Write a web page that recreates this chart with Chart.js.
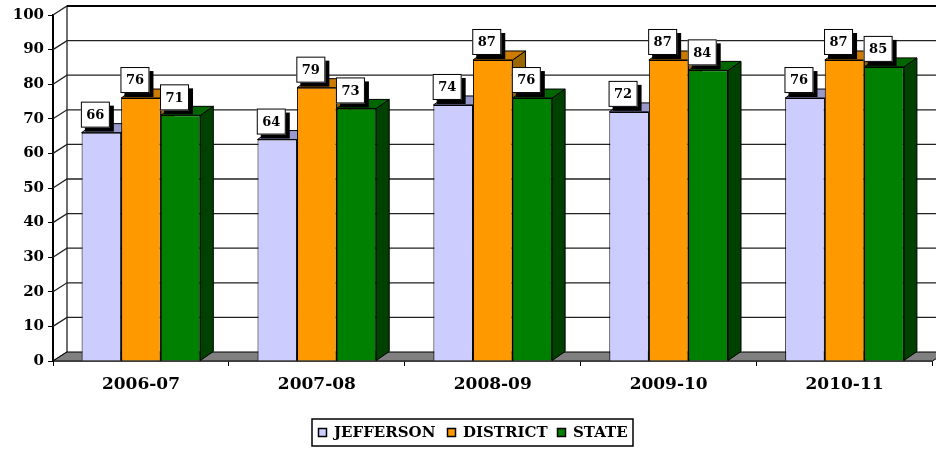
<!DOCTYPE html>
<html lang="en">
<head>
    <meta charset="UTF-8">
    <title>Jefferson / District / State</title>
    <script src="https://cdn.jsdelivr.net/npm/chart.js"></script>
    <style>
        html, body {
            margin: 0;
            padding: 0;
            background: #fff;
        }
        #wrap {
            width: 936px;
            height: 449px;
        }
    </style>
</head>
<body>
    <div id="wrap"><canvas id="barChart" width="936" height="449"></canvas></div>

    <script>
        // data
        const categories = ['2006-07', '2007-08', '2008-09', '2009-10', '2010-11'];
        const jefferson = [66, 64, 74, 72, 76];
        const district = [76, 79, 87, 87, 87];
        const state = [71, 73, 76, 84, 85];
        const seriesNames = ['JEFFERSON', 'DISTRICT', 'STATE'];
        const yMin = 0, yMax = 100, yStep = 10;

        // colours: front, top, side
        const colors = [
            ['#CCCCFF', '#9999CC', '#666699'],
            ['#FF9900', '#CC7A00', '#996600'],
            ['#008000', '#006600', '#004000']
        ];

        const FONT = "'DejaVu Serif', serif";
        const WALL_DX = 14, WALL_DY = 9;   // depth of the walls
        const BAR_DX = 13, BAR_DY = 9;     // depth of the columns

        function poly(ctx, pts, fill) {
            ctx.beginPath();
            ctx.moveTo(pts[0][0], pts[0][1]);
            for (let i = 1; i < pts.length; i++) ctx.lineTo(pts[i][0], pts[i][1]);
            ctx.closePath();
            ctx.fillStyle = fill;
            ctx.fill();
            ctx.stroke();
        }

        // walls, floor and the depth faces of the columns
        const box3d = {
            id: 'box3d',
            beforeDatasetsDraw(chart) {
                const ctx = chart.ctx;
                const a = chart.chartArea;
                const ys = chart.scales.y;
                ctx.save();

                // side wall diagonals + back wall grid
                ctx.strokeStyle = '#222';
                ctx.lineWidth = 1.3;
                for (let v = yMin; v <= yMax; v += yStep) {
                    const py = ys.getPixelForValue(v);
                    ctx.beginPath();
                    ctx.moveTo(a.left, py);
                    ctx.lineTo(a.left + WALL_DX, py - WALL_DY);
                    if (v > yMin) ctx.lineTo(a.right + WALL_DX, py - WALL_DY);
                    ctx.stroke();
                }
                // back-left edge
                ctx.beginPath();
                ctx.moveTo(a.left + WALL_DX, ys.getPixelForValue(yMax) - WALL_DY);
                ctx.lineTo(a.left + WALL_DX, ys.getPixelForValue(yMin) - WALL_DY);
                ctx.stroke();
                // top edge a bit heavier
                ctx.strokeStyle = '#000';
                ctx.lineWidth = 2;
                ctx.beginPath();
                ctx.moveTo(a.left + WALL_DX, ys.getPixelForValue(yMax) - WALL_DY);
                ctx.lineTo(a.right + WALL_DX, ys.getPixelForValue(yMax) - WALL_DY);
                ctx.stroke();

                // floor
                ctx.strokeStyle = '#000';
                ctx.lineWidth = 1;
                const b = ys.getPixelForValue(yMin);
                poly(ctx, [[a.left, b], [a.right, b], [a.right + WALL_DX, b - WALL_DY], [a.left + WALL_DX, b - WALL_DY]], '#808080');

                // column tops and sides, left to right in each group
                const metas = chart.data.datasets.map((d, i) => chart.getDatasetMeta(i));
                for (let c = 0; c < categories.length; c++) {
                    metas.forEach((meta, di) => {
                        const bar = meta.data[c];
                        const p = bar.getProps(['x', 'y', 'base', 'width'], true);
                        const l = p.x - p.width / 2, r = p.x + p.width / 2;
                        poly(ctx, [[r, p.y], [r + BAR_DX, p.y - BAR_DY], [r + BAR_DX, p.base - BAR_DY], [r, p.base]], colors[di][2]);
                        poly(ctx, [[l, p.y], [l + BAR_DX, p.y - BAR_DY], [r + BAR_DX, p.y - BAR_DY], [r, p.y]], colors[di][1]);
                    });
                }
                ctx.restore();
            },
            afterDatasetsDraw(chart) {
                // value boxes
                const ctx = chart.ctx;
                ctx.save();
                ctx.font = 'bold 13px ' + FONT;
                ctx.textAlign = 'center';
                ctx.textBaseline = 'middle';
                for (let c = 0; c < categories.length; c++) {
                    chart.data.datasets.forEach((ds, di) => {
                        const bar = chart.getDatasetMeta(di).data[c];
                        const cx = bar.x - 6, cy = bar.y - 18;
                        const w = 29, h = 26;
                        ctx.fillStyle = '#000';
                        ctx.fillRect(cx - w / 2 + 4, cy - h / 2 + 4, w, h);
                        ctx.fillStyle = '#fff';
                        ctx.fillRect(cx - w / 2, cy - h / 2, w, h);
                        ctx.strokeStyle = '#000';
                        ctx.lineWidth = 1;
                        ctx.strokeRect(cx - w / 2 + 0.5, cy - h / 2 + 0.5, w - 1, h - 1);
                        ctx.fillStyle = '#000';
                        ctx.fillText(String(ds.data[c]), cx, cy + 1);
                    });
                }
                ctx.restore();
            },
            afterDraw(chart) {
                // legend box
                const ctx = chart.ctx;
                ctx.save();
                ctx.font = 'bold 15px ' + FONT;
                ctx.textBaseline = 'middle';
                const sq = 9;
                const itemX = [318, 447, 557];
                const left = 312, top = 419, wid = 321, hgt = 27;
                const cy = top + hgt / 2;
                ctx.strokeStyle = '#000';
                ctx.lineWidth = 1.5;
                ctx.strokeRect(left, top, wid, hgt);
                seriesNames.forEach((n, i) => {
                    const x = itemX[i];
                    ctx.fillStyle = colors[i][0];
                    ctx.fillRect(x, cy - sq / 2, sq, sq);
                    ctx.lineWidth = 1.5;
                    ctx.strokeRect(x + 0.5, cy - sq / 2 + 0.5, sq - 1, sq - 1);
                    ctx.fillStyle = '#000';
                    ctx.fillText(n, x + 16, cy + 1);
                });
                ctx.restore();
            }
        };

        const ctx = document.getElementById('barChart').getContext('2d');
        const barChart = new Chart(ctx, {
            type: 'bar',
            data: {
                labels: categories,
                datasets: [jefferson, district, state].map((vals, i) => ({
                    label: seriesNames[i],
                    data: vals,
                    backgroundColor: colors[i][0],
                    borderColor: '#000',
                    borderWidth: 1,
                    categoryPercentage: 0.675,
                    barPercentage: 1.0
                }))
            },
            options: {
                responsive: false,
                animation: false,
                layout: { padding: { top: 15, right: 3.5, bottom: 48, left: 0 } },
                plugins: {
                    legend: { display: false },
                    tooltip: { enabled: false }
                },
                scales: {
                    x: {
                        grid: { display: true, drawOnChartArea: false, drawTicks: true, tickLength: 5, color: '#000', offset: true },
                        border: { display: true, color: '#000', width: 1.5 },
                        ticks: { color: '#000', font: { family: FONT, size: 17, weight: 'bold' }, padding: 8, maxRotation: 0 },
                        afterFit(scale) { scale.height = 40; }
                    },
                    y: {
                        min: yMin,
                        max: yMax,
                        ticks: { stepSize: yStep, color: '#000', font: { family: FONT, size: 15, weight: 'bold' }, padding: 4 },
                        grid: { display: true, drawOnChartArea: false, drawTicks: true, tickLength: 5, color: '#000' },
                        border: { display: true, color: '#000', width: 2 },
                        afterFit(scale) { scale.width = 53; }
                    }
                }
            },
            plugins: [box3d]
        });
    </script>
</body>
</html>
